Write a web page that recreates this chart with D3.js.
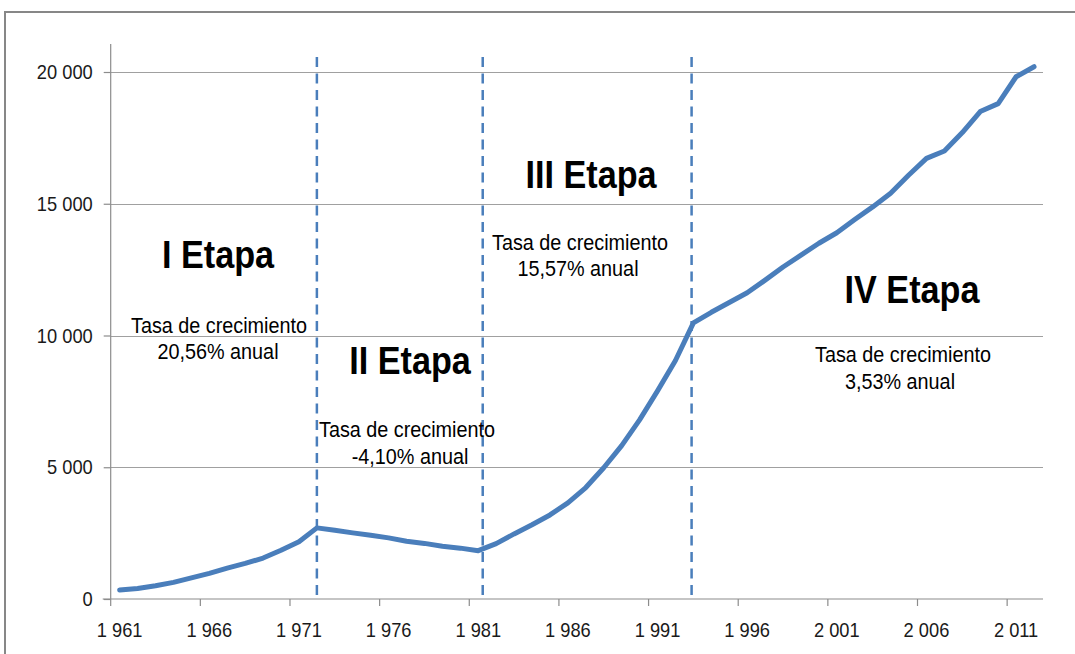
<!DOCTYPE html>
<html>
<head>
<meta charset="utf-8">
<script src="https://cdn.jsdelivr.net/npm/d3@7"></script>
<style>
  html, body { margin: 0; padding: 0; background: #fff; }
  svg { display: block; }
</style>
</head>
<body>
<svg id="chart" width="1075" height="654"></svg>
<script>
// ---- Data ----
const years = d3.range(1961, 2013).map(String);
const values = [
  340, 400, 500, 630, 800, 970, 1170, 1350, 1555, 1850, 2175, 2700,   // 1961-1972
  2610, 2510, 2420, 2320, 2190, 2110, 2000, 1930, 1833,               // 1973-1981
  2100, 2470, 2820, 3190, 3650, 4230, 4980, 5820, 6800, 7900, 9050,   // 1982-1992
  10480, 10880, 11250, 11620, 12100, 12600, 13050, 13500, 13900,      // 1993-2001
  14400, 14880, 15400, 16080, 16720, 17000, 17700, 18500, 18800,      // 2002-2010
  19820, 20200                                                        // 2011-2012
];
const yTicks = [0, 5000, 10000, 15000, 20000];
const xTickLabels = ["1961","1966","1971","1976","1981","1986","1991","1996","2001","2006","2011"];
const stageBreaks = [1972, 1981.25, 1992.9];
const stageTitles = ["I Etapa", "II Etapa", "III Etapa", "IV Etapa"];
const stageRates = ["20,56% anual", "-4,10% anual", "15,57% anual", "3,53% anual"];
const rateCaption = "Tasa de crecimiento";

// ---- Layout ----
const svg = d3.select("#chart");
const pLeft = 110.7, pRight = 1043, pTop = 44, pBottom = 599;
const x = d3.scaleBand().domain(years).range([pLeft, pRight]).padding(0);
const y = d3.scaleLinear().domain([0, 20000]).range([pBottom, 72]);
const bw = x.bandwidth();
const xCenter = yr => x(String(yr)) + bw / 2;
const xFrac = v => x(years[0]) + bw / 2 + v * bw;

const FONT = "'Liberation Sans', Arial, sans-serif";
// condensed text: draws at (tx,ty) scaled horizontally
function ctext(g, tx, ty, str, size, opts = {}) {
  return g.append("text")
    .attr("transform", `translate(${tx},${ty}) scale(${opts.sx || 0.87},1)`)
    .attr("text-anchor", opts.anchor || "middle")
    .attr("fill", opts.fill || "#000")
    .style("font-family", FONT)
    .style("font-size", size + "px")
    .style("font-weight", opts.weight || "normal")
    .text(str);
}

// frame
svg.append("rect").attr("x", 5).attr("y", 12).attr("width", 1200).attr("height", 800)
  .attr("fill", "none").attr("stroke", "#878787").attr("stroke-width", 2);

// gridlines
svg.append("g").selectAll("line").data(yTicks.filter(d => d > 0)).join("line")
  .attr("x1", pLeft).attr("x2", pRight)
  .attr("y1", d => Math.round(y(d)) + 0.5).attr("y2", d => Math.round(y(d)) + 0.5)
  .attr("stroke", "#a0a0a0").attr("stroke-width", 1.2);

// y axis
const fmt = d => d3.format(",")(d).replace(/,/g, " ");
const yAxis = svg.append("g").attr("transform", `translate(${pLeft},0)`)
  .call(d3.axisLeft(y).tickValues(yTicks).tickSize(7).tickFormat(""));
yAxis.select(".domain").remove();
yAxis.append("line").attr("x1", 0).attr("x2", 0).attr("y1", pTop).attr("y2", pBottom)
  .attr("stroke", "#8c8c8c").attr("stroke-width", 1.2);
yAxis.selectAll(".tick line").attr("stroke", "#8c8c8c").attr("stroke-width", 1.2);
const yLab = svg.append("g");
yTicks.forEach(v => ctext(yLab, pLeft - 18, y(v) + 7, fmt(v), 21, { anchor: "end", fill: "#1a1a1a" }));

// x axis
const xAxisScale = d3.scalePoint().domain(xTickLabels).range([xCenter(1961), xCenter(2011)]);
const xg = svg.append("g").attr("transform", `translate(0,${pBottom})`);
xg.append("line").attr("x1", pLeft - 8).attr("x2", pRight).attr("y1", 0).attr("y2", 0)
  .attr("stroke", "#8c8c8c").attr("stroke-width", 1.2);
xg.selectAll(".xt").data(xTickLabels).join("line").attr("class", "xt")
  .attr("x1", d => x(d)).attr("x2", d => x(d)).attr("y1", 0).attr("y2", 7)
  .attr("stroke", "#8c8c8c").attr("stroke-width", 1.2);
xTickLabels.forEach(d => ctext(xg, xAxisScale(d), 38, d.charAt(0) + " " + d.slice(1), 21, { fill: "#1a1a1a" }));

// stage break dashed lines
svg.append("g").selectAll("line").data(stageBreaks).join("line")
  .attr("x1", d => xFrac(d - 1961)).attr("x2", d => xFrac(d - 1961))
  .attr("y1", 57).attr("y2", 596)
  .attr("stroke", "#4a7ebb").attr("stroke-width", 2.5).attr("stroke-dasharray", "10,6.5");

// data line
const line = d3.line().x((d, i) => xCenter(years[i])).y(d => y(d));
svg.append("path").datum(values).attr("d", line)
  .attr("fill", "none").attr("stroke", "#4a7ebb").attr("stroke-width", 5)
  .attr("stroke-linejoin", "round").attr("stroke-linecap", "round");

// annotations
const titlePos = [[218, 268], [410, 374], [591, 188], [912, 303]];
const captionPos = [[219, 333], [407, 437], [580, 250], [903, 362]];
const ratePos = [[218, 359], [410, 464], [578, 276], [900, 389]];
const ann = svg.append("g");
stageTitles.forEach((t, i) => {
  ctext(ann, titlePos[i][0], titlePos[i][1], t, 38, { weight: "bold", sx: 0.9 });
  ctext(ann, captionPos[i][0], captionPos[i][1], rateCaption, 22.5, { sx: 0.88 });
  ctext(ann, ratePos[i][0], ratePos[i][1], stageRates[i], 22.5, { sx: 0.88 });
});
</script>
</body>
</html>
